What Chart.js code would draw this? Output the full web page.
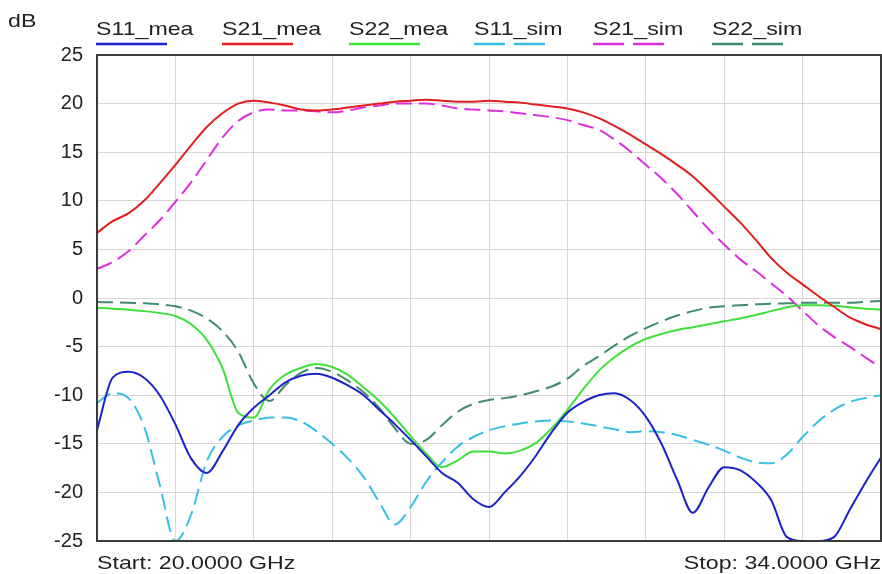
<!DOCTYPE html>
<html>
<head>
<meta charset="utf-8">
<script src="https://cdn.jsdelivr.net/npm/chart.js@4.4.1/dist/chart.umd.min.js"></script>
<style>
  html, body { margin: 0; padding: 0; background: #fff; }
  canvas { display: block; }
</style>
</head>
<body>
<canvas id="myChart" width="882" height="574"></canvas>
<script>
// frequency points (GHz)
const freqs = [
  20, 20.28, 20.56, 20.84, 21.12, 21.4, 21.68, 21.96, 22.24, 22.52,
  22.8, 23.08, 23.36, 23.64, 23.92, 24.2, 24.48, 24.76, 25.04, 25.32,
  25.6, 25.88, 26.16, 26.44, 26.72, 27, 27.28, 27.56, 27.84, 28.12,
  28.4, 28.68, 28.96, 29.24, 29.52, 29.8, 30.08, 30.36, 30.64, 30.92,
  31.2, 31.48, 31.76, 32.04, 32.32, 32.6, 32.88, 33.16, 33.44, 33.72, 34,
];

const s11Mea = [
  -13.6, -8.2, -7.6, -8.2, -10.0, -13.0, -16.5, -18.0, -15.8, -13.1,
  -11.3, -10.0, -8.7, -8.0, -7.8, -8.2, -9.0, -10.0, -11.5, -13.0,
  -14.6, -16.3, -18.0, -19.0, -20.7, -21.5, -20.0, -18.3, -16.2, -13.8,
  -11.8, -10.7, -10.0, -9.8, -10.5, -12.2, -15.0, -18.7, -22.1, -19.5,
  -17.4, -17.7, -18.9, -20.8, -24.6, -25, -25, -24.6, -21.8, -19.0, -16.4,
];
const s21Mea = [
  6.7, 7.9, 8.7, 10.0, 11.8, 13.7, 15.7, 17.6, 19.0, 20.0,
  20.3, 20.1, 19.8, 19.4, 19.3, 19.4, 19.6, 19.8, 20.0, 20.2,
  20.3, 20.4, 20.3, 20.2, 20.2, 20.3, 20.2, 20.1, 19.9, 19.7,
  19.5, 19.1, 18.5, 17.7, 16.8, 15.8, 14.8, 13.7, 12.5, 11.0,
  9.4, 7.8, 6.0, 4.1, 2.6, 1.4, 0.2, -0.9, -2.0, -2.7, -3.2,
];
const s22Mea = [
  -1.0, -1.1, -1.2, -1.35, -1.55, -1.85, -2.7, -4.3, -7.2, -11.8,
  -12.3, -9.4, -7.9, -7.2, -6.8, -7.1, -7.9, -9.2, -10.6, -12.3,
  -14.2, -16.0, -17.4, -16.7, -15.8, -15.8, -16.0, -15.7, -14.9, -13.4,
  -11.5, -9.4, -7.5, -6.1, -5.0, -4.2, -3.7, -3.3, -3.0, -2.7,
  -2.4, -2.1, -1.75, -1.35, -0.95, -0.75, -0.75, -0.8, -0.95, -1.1, -1.2,
];
const s11Sim = [
  -10.8, -9.8, -10.3, -13.2, -19.2, -25, -22.3, -16.8, -14.3, -13.1,
  -12.6, -12.3, -12.3, -12.7, -13.7, -15.0, -16.5, -18.4, -21.0, -23.3,
  -21.5, -18.9, -16.9, -15.3, -14.3, -13.6, -13.2, -12.9, -12.7, -12.6,
  -12.7, -12.9, -13.2, -13.5, -13.8, -13.7, -13.8, -14.1, -14.6, -15.1,
  -15.7, -16.4, -16.9, -17.0, -16.1, -14.3, -12.7, -11.5, -10.7, -10.3, -10.0,
];
const s21Sim = [
  3.0, 3.7, 4.8, 6.4, 8.0, 9.9, 11.9, 14.2, 16.5, 18.2,
  19.1, 19.4, 19.3, 19.3, 19.2, 19.1, 19.3, 19.6, 19.8, 20.0,
  20.0, 20.0, 19.8, 19.5, 19.4, 19.3, 19.2, 19.0, 18.8, 18.6,
  18.3, 17.8, 17.3, 16.3, 15.1, 13.7, 12.3, 10.7, 8.9, 7.1,
  5.5, 4.0, 2.8, 1.5, 0.2, -1.3, -2.8, -4.0, -5.0, -6.1, -7.2,
];
const s22Sim = [
  -0.4, -0.45, -0.5, -0.55, -0.65, -0.85, -1.3, -2.1, -3.4, -5.5,
  -8.8, -10.6, -9.0, -7.7, -7.2, -7.6, -8.5, -9.7, -11.3, -13.4,
  -15.0, -14.6, -13.1, -11.7, -10.9, -10.5, -10.3, -10.0, -9.6, -9.1,
  -8.3, -7.0, -6.0, -4.9, -3.9, -3.1, -2.4, -1.8, -1.35, -1.0,
  -0.85, -0.75, -0.65, -0.6, -0.55, -0.5, -0.5, -0.5, -0.5, -0.4, -0.3,
];

const seriesNames = ["S11_mea", "S21_mea", "S22_mea", "S11_sim", "S21_sim", "S22_sim"];
const seriesValues = [s11Mea, s21Mea, s22Mea, s11Sim, s21Sim, s22Sim];
const seriesColors = ["#1c22c8", "#e01e1e", "#3ee03a", "#38c0e4", "#dc2edc", "#3f8c6c"];
const seriesDashed = [false, false, false, true, true, true];

const startLabel = "Start: 20.0000 GHz";
const stopLabel = "Stop: 34.0000 GHz";
const yUnit = "dB";

const SX = 1.22; // the original text is a bit wide
const FONT = '19px "Liberation Sans", Arial, sans-serif';

function wideText(ctx, txt, x, y, align) {
  ctx.save();
  ctx.font = FONT;
  ctx.textBaseline = "middle";
  ctx.textAlign = "left";
  ctx.fillStyle = "#222";
  const w = ctx.measureText(txt).width * SX;
  ctx.translate(align === "right" ? x - w : x, y);
  ctx.scale(SX, 1);
  ctx.fillText(txt, 0, 0);
  ctx.restore();
}

const legendX = [96, 222, 349, 474, 593, 712];

const frameAndText = {
  id: "frameAndText",
  afterDraw(chart) {
    const { ctx, chartArea: a } = chart;
    ctx.save();
    ctx.strokeStyle = "#3a3a3a";
    ctx.lineWidth = 2;
    ctx.strokeRect(a.left, a.top, a.right - a.left, a.bottom - a.top);

    wideText(ctx, yUnit, 8, 22, "left");
    wideText(ctx, startLabel, a.left, 564, "left");
    wideText(ctx, stopLabel, a.right, 564, "right");

    chart.data.datasets.forEach((ds, i) => {
      const x = legendX[i];
      wideText(ctx, ds.label, x, 30, "left");
      ctx.strokeStyle = ds.borderColor;
      ctx.lineWidth = 2.5;
      ctx.setLineDash(ds.borderDash ? [31, 9] : []);
      ctx.beginPath();
      ctx.moveTo(x, 44);
      ctx.lineTo(x + 71, 44);
      ctx.stroke();
    });
    ctx.restore();
  },
};

const ctx = document.getElementById("myChart");

new Chart(ctx, {
  type: "line",
  data: {
    datasets: seriesNames.map((name, i) => ({
      label: name,
      data: freqs.map((f, k) => ({ x: f, y: seriesValues[i][k] })),
      borderColor: seriesColors[i],
      borderWidth: 2,
      borderDash: seriesDashed[i] ? [16, 7] : undefined,
      pointRadius: 0,
      cubicInterpolationMode: "monotone",
      fill: false,
      clip: 3,
    })),
  },
  options: {
    responsive: false,
    animation: false,
    layout: {
      padding: { top: 55, right: 1, bottom: 33, left: 0 },
    },
    scales: {
      x: {
        type: "linear",
        min: 20,
        max: 34,
        ticks: { display: false, stepSize: 1.4 },
        grid: { color: "#d6d6d6", lineWidth: 1, drawTicks: false },
        border: { display: false },
        afterFit: (scale) => { scale.height = 0; },
      },
      y: {
        min: -25,
        max: 25,
        ticks: {
          stepSize: 5,
          padding: 14,
          color: "#222",
          font: { family: '"Liberation Sans", Arial, sans-serif', size: 20 },
        },
        grid: { color: "#d6d6d6", lineWidth: 1, drawTicks: false },
        border: { display: false },
        afterFit: (scale) => { scale.width = 97; },
      },
    },
    plugins: {
      legend: { display: false },
      tooltip: { enabled: false },
    },
  },
  plugins: [frameAndText],
});
</script>
</body>
</html>
